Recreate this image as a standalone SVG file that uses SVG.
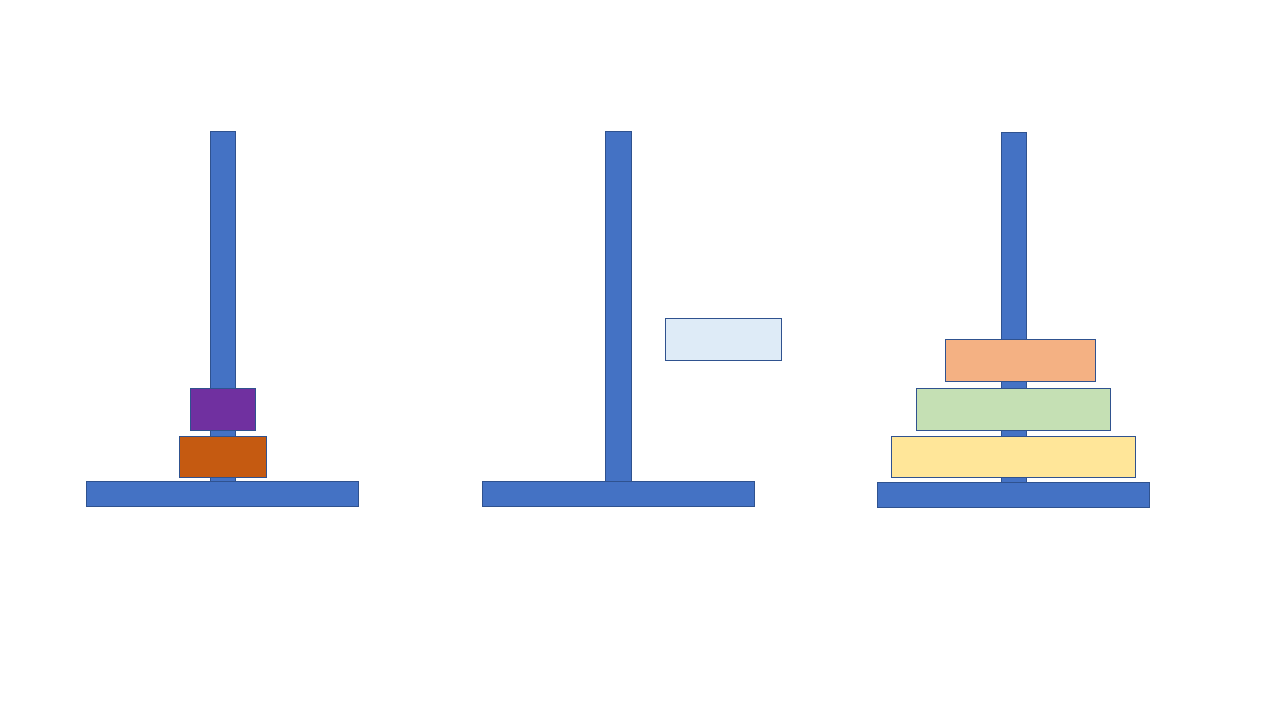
<svg xmlns="http://www.w3.org/2000/svg" width="1280" height="720" viewBox="0 0 1280 720">
<style>
rect{stroke:#2F528F;stroke-width:1}
.rod{fill:#4472C4}
</style>
<rect x="0" y="0" width="1280" height="720" fill="#FFFFFF" style="stroke:none"/>
<g id="peg-left">
<rect class="rod" x="210.5" y="131.5" width="25" height="350"/>
<rect class="rod" x="86.5" y="481.5" width="272" height="25"/>
</g>
<g id="peg-middle">
<rect class="rod" x="605.5" y="131.5" width="26" height="350"/>
<rect class="rod" x="482.5" y="481.5" width="272" height="25"/>
</g>
<g id="peg-right">
<rect class="rod" x="1001.5" y="132.5" width="25" height="350"/>
<rect class="rod" x="877.5" y="482.5" width="272" height="25"/>
</g>
<g id="disk-purple"><rect x="190.5" y="388.5" width="65" height="42" fill="#7030A0"/></g>
<g id="disk-orange"><rect x="179.5" y="436.5" width="87" height="41" fill="#C55A11"/></g>
<g id="disk-light"><rect x="665.5" y="318.5" width="116" height="42" fill="#DEEBF7"/></g>
<g id="disk-peach"><rect x="945.5" y="339.5" width="150" height="42" fill="#F4B183"/></g>
<g id="disk-green"><rect x="916.5" y="388.5" width="194" height="42" fill="#C5E0B4"/></g>
<g id="disk-yellow"><rect x="891.5" y="436.5" width="244" height="41" fill="#FFE699"/></g>
<g id="connectors"></g>
</svg>
